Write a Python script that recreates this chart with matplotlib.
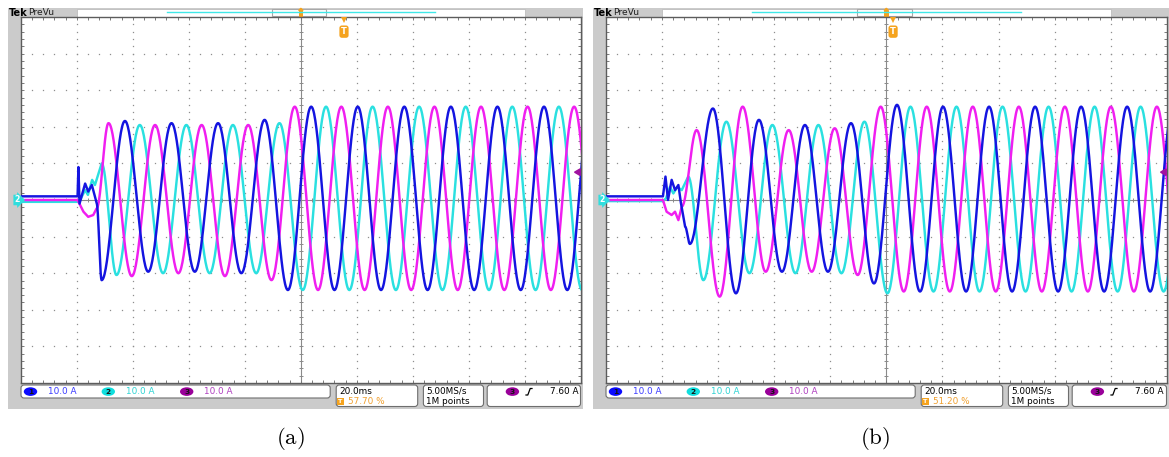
import numpy as np
import matplotlib
matplotlib.use("Agg")
import matplotlib.pyplot as plt
from matplotlib.patches import Rectangle, FancyBboxPatch, Ellipse
import matplotlib.transforms as mtrans

plt.rcParams['mathtext.fontset'] = 'cm'

# ---------------- data ----------------
TIME_DIV_MS = 20.0
AMP_DIV_A = 10.0
N_HDIV = 10
N_VDIV = 10

panel_labels = [r'$\mathrm{(a)}$', r'$\mathrm{(b)}$']
ch_names = ['1', '2', '3']
ch_scale_text = ['10.0 A', '10.0 A', '10.0 A']
time_base_text = '20.0ms'
trigger_pos_pct = [57.70, 51.20]
trigger_pos_text = ['57.70 %', '51.20 %']
sample_rate_text = '5.00MS/s'
record_len_text = '1M points'
trigger_level_A = 7.60
trigger_level_text = '7.60 A'

# panel (a): transient points (ms, A), then extremes every half period
a_half_period = 8.31
a_ch1_tr_t = [0.0, 20.3, 20.6, 21.0, 23.0, 24.1, 25.4, 27.1]
a_ch1_tr_v = [1.0, 1.0, 9.0, -1.0, 4.5, 2.3, 4.1, -0.9]
a_ch1_first = 28.9
a_ch1_ext = [-21.9, 21.6, -19.6, 21.0, -19.6, 21.0, -20.0, 21.9, -24.6, 25.5,
             -24.6, 25.5, -24.6, 25.5, -24.6, 25.5, -24.6, 25.5, -24.6, 25.5,
             -24.6, 25.5]
a_ch2_tr_t = [0.0, 20.3, 21.2, 23.0, 24.0, 25.5, 26.5, 28.9]
a_ch2_tr_v = [-0.5, -0.5, 0.0, 2.7, 1.4, 5.5, 4.1, 10.0]
a_ch2_first = 34.2
a_ch2_ext = [-20.5, 20.5, -20.0, 20.5, -20.0, 20.5, -20.0, 21.0, -24.6, 25.5,
             -24.6, 25.5, -24.6, 25.5, -24.6, 25.5, -24.6, 25.5, -24.6, 25.5,
             -24.6, 25.5]
a_ch3_tr_t = [0.0, 20.3, 22.4, 24.1, 25.9, 27.1]
a_ch3_tr_v = [0.0, 0.0, -3.2, -4.6, -4.1, -2.3]
a_ch3_first = 31.35
a_ch3_ext = [21.0, -20.8, 20.5, -20.0, 20.5, -20.8, 20.5, -21.9, 25.5, -24.6,
             25.5, -24.6, 25.5, -24.6, 25.5, -24.6, 25.5, -24.6, 25.5, -24.6,
             25.5, -24.6]

# panel (b)
b_half_period = 8.2
b_ch1_tr_t = [0.0, 20.4, 21.3, 22.2, 23.5, 24.7, 25.9, 26.8, 28.3]
b_ch1_tr_v = [1.0, 1.0, 6.4, 0.0, 5.5, 2.7, 4.1, -0.8, -7.3]
b_ch1_first = 30.0
b_ch1_ext = [-12.0, 25.0, -25.5, 21.9, -19.6, 20.5, -19.6, 21.0, -22.8, 26.0,
             -25.0, 25.5, -25.0, 25.5, -25.0, 25.5, -25.0, 25.5, -25.0, 25.5,
             -25.0, 25.5]
b_ch2_tr_t = [0.0, 20.4, 21.5, 22.9, 24.1, 25.5, 27.1, 29.4]
b_ch2_tr_v = [-0.3, -0.3, 0.5, 3.6, 1.8, 3.6, 2.7, 6.4]
b_ch2_first = 34.8
b_ch2_ext = [-21.9, 21.4, -20.0, 20.5, -20.0, 20.5, -20.0, 21.4, -25.5, 25.5,
             -25.0, 25.5, -25.0, 25.5, -25.0, 25.5, -25.0, 25.5, -25.0, 25.5,
             -25.0, 25.5]
b_ch3_tr_t = [0.0, 20.4, 21.7, 23.5, 24.7, 25.9, 27.1]
b_ch3_tr_v = [0.0, 0.0, -3.2, -4.1, -3.2, -5.5, -1.8]
b_ch3_first = 32.4
b_ch3_ext = [19.1, -26.4, 25.5, -19.6, 19.1, -19.6, 19.6, -20.5, 25.5, -25.0,
             25.5, -25.0, 25.5, -25.0, 25.5, -25.0, 25.5, -25.0, 25.5, -25.0,
             25.5, -25.0]

panels = [
    dict(half=a_half_period,
         ch=[(a_ch1_tr_t, a_ch1_tr_v, a_ch1_first, a_ch1_ext),
             (a_ch2_tr_t, a_ch2_tr_v, a_ch2_first, a_ch2_ext),
             (a_ch3_tr_t, a_ch3_tr_v, a_ch3_first, a_ch3_ext)]),
    dict(half=b_half_period,
         ch=[(b_ch1_tr_t, b_ch1_tr_v, b_ch1_first, b_ch1_ext),
             (b_ch2_tr_t, b_ch2_tr_v, b_ch2_first, b_ch2_ext),
             (b_ch3_tr_t, b_ch3_tr_v, b_ch3_first, b_ch3_ext)]),
]

# ---------------- style ----------------
TRACE_COL = ['#1414e0', '#2ae0e0', '#f01ef0']
BADGE_COL = ['#0a0aff', '#10dede', '#990099']
TEXT_COL = ['#3c3cff', '#30d4d4', '#b040c0']
GRAY = '#cbcbcb'
ORANGE = '#f5a31e'
BOXEDGE = '#6e6e6e'

W, H = 1169, 457
GRID_TOP, GRID_BOT = 17.0, 383.0
grid_lefts = [20.7, 605.7]
grid_widths = [560.3, 561.3]


def build_curve(tr_t, tr_v, first, half, ext):
    ts = [np.asarray(tr_t, float)]
    vs = [np.asarray(tr_v, float)]
    pt, pv = tr_t[-1], tr_v[-1]
    s = np.linspace(0, 1, 41)[1:]
    for k, v in enumerate(ext):
        tk = first + k * half
        ts.append(pt + (tk - pt) * s)
        vs.append(v + (pv - v) * (1 + np.cos(np.pi * s)) / 2)
        pt, pv = tk, v
    return np.concatenate(ts), np.concatenate(vs)


fig = plt.figure(figsize=(W / 100, H / 100), dpi=100)
bg = fig.add_axes([0, 0, 1, 1], zorder=0)
bg.set_xlim(0, W)
bg.set_ylim(H, 0)
bg.axis('off')

xmax = TIME_DIV_MS * N_HDIV
ymax = AMP_DIV_A * N_VDIV / 2

for p, (gl, gw) in enumerate(zip(grid_lefts, grid_widths)):
    # frame
    fl, fr = gl - 12.5, min(gl + gw + 2.0, W)
    bg.add_patch(Rectangle((fl, 8), fr - fl, 401, fc=GRAY, ec='none'))
    # preview bar
    bx0, bx1 = gl + gw * 0.1, gl + gw * 0.9
    bg.add_patch(Rectangle((bx0, 8.5), bx1 - bx0, 8.3, fc='white', ec='#bdbdbd', lw=0.6))
    bg.plot([gl + gw * 0.261, gl + gw * 0.740], [12.3, 12.3], color='#40e8e8', lw=1.0)
    bg.add_patch(Rectangle((gl + gw * 0.448, 9.0), gw * 0.097, 7.4, fc='none', ec='#a8a8a8', lw=0.8))
    cx = gl + gw * 0.5
    bg.add_patch(Rectangle((cx - 2.2, 10.5), 4.4, 6.0, fc=ORANGE, ec='none'))
    bg.fill([cx - 2.2, cx + 2.2, cx], [10.5, 10.5, 8.3], color=ORANGE)
    bg.text(gl - 11.8, 12.8, 'Tek', fontsize=7.0, fontweight='bold', color='black',
            ha='left', va='center')
    bg.text(gl + 7.5, 12.8, 'PreVu', fontsize=6.6, color='#202020', ha='left', va='center')

    # bottom info boxes
    def rbox(x0, x1, y0, y1):
        bg.add_patch(FancyBboxPatch((x0, y0), x1 - x0, y1 - y0,
                                    boxstyle='round,pad=0,rounding_size=3',
                                    fc='white', ec=BOXEDGE, lw=0.8))
    rbox(gl + 0.3, gl + 309.5, 385.0, 398.0)
    rbox(gl + 315.5, gl + 397.0, 385.0, 406.5)
    rbox(gl + 402.7, gl + 462.8, 385.0, 406.5)
    rbox(gl + 466.5, gl + gw - 0.5, 385.0, 406.5)

    badge_x = [9.8, 87.6, 166.0]
    text_x = [27.3, 105.7, 183.3]
    for c in range(3):
        bg.add_patch(Ellipse((gl + badge_x[c], 391.6), 13.4, 8.6, fc=BADGE_COL[c], ec='none'))
        bg.text(gl + badge_x[c], 391.8, ch_names[c], fontsize=5.4, fontweight='bold',
                color='#151515', ha='center', va='center')
        bg.text(gl + text_x[c], 391.6, ch_scale_text[c], fontsize=6.4, color=TEXT_COL[c],
                ha='left', va='center')
    bg.text(gl + 318.5, 391.2, time_base_text, fontsize=6.4, color='black', ha='left', va='center')
    bg.text(gl + 319.8, 401.6, 'T', fontsize=4.6, fontweight='bold', color='white',
            ha='center', va='center',
            bbox=dict(boxstyle='square,pad=0.15', fc=ORANGE, ec='none'))
    bg.text(gl + 327.5, 401.6, trigger_pos_text[p], fontsize=6.4, color='#f0a030',
            ha='left', va='center')
    bg.text(gl + 405.5, 391.2, sample_rate_text, fontsize=6.4, color='black', ha='left', va='center')
    bg.text(gl + 405.5, 401.6, record_len_text, fontsize=6.4, color='black', ha='left', va='center')
    bg.add_patch(Ellipse((gl + 491.7, 391.6), 13.4, 8.6, fc=BADGE_COL[2], ec='none'))
    bg.text(gl + 491.7, 391.8, '3', fontsize=5.4, fontweight='bold', color='#151515',
            ha='center', va='center')
    ex = gl + 508.3
    bg.plot([ex - 3.0, ex - 1.2, ex + 1.2, ex + 3.0], [395.0, 395.0, 388.5, 388.5],
            color='black', lw=0.9)
    bg.text(gl + 558.2, 391.6, trigger_level_text, fontsize=6.4, color='black',
            ha='right', va='center')

    bg.text(gl + 269.8, 438.0, panel_labels[p], fontsize=16.5, color='black',
            ha='center', va='center')

    # scope screen
    ax = fig.add_axes([gl / W, 1 - GRID_BOT / H, gw / W, (GRID_BOT - GRID_TOP) / H], zorder=1)
    ax.set_facecolor('white')
    ax.set_xlim(0, xmax)
    ax.set_ylim(-ymax, ymax)
    ax.set_xticks([])
    ax.set_yticks([])
    for sp in ax.spines.values():
        sp.set_color('#5c5c5c')
        sp.set_linewidth(1.0)

    dt = TIME_DIV_MS / 5
    dv = AMP_DIV_A / 5
    yy = np.arange(-ymax, ymax + 1e-6, dv)
    xx = np.arange(0, xmax + 1e-6, dt)
    for i in range(1, N_HDIV):
        if i == N_HDIV // 2:
            continue
        ax.plot(np.full_like(yy, i * TIME_DIV_MS), yy, ls='none', marker='s', ms=0.9,
                mew=0, color='#8e8e8e')
    for j in range(-N_VDIV // 2 + 1, N_VDIV // 2):
        if j == 0:
            continue
        ax.plot(xx, np.full_like(xx, j * AMP_DIV_A), ls='none', marker='s', ms=0.9,
                mew=0, color='#8e8e8e')
    ax.axvline(xmax / 2, color='#8a8a8a', lw=0.8)
    ax.axhline(0, color='#8a8a8a', lw=0.8)
    ax.vlines(xx, -0.6, 0.6, color='#8a8a8a', lw=0.7)
    ax.hlines(yy, xmax / 2 - 0.75, xmax / 2 + 0.75, color='#8a8a8a', lw=0.7)
    ax.vlines(xx, ymax - 0.9, ymax, color='#7a7a7a', lw=0.7)
    ax.vlines(xx, -ymax, -ymax + 0.9, color='#7a7a7a', lw=0.7)
    ax.hlines(yy, 0, 1.1, color='#7a7a7a', lw=0.7)
    ax.hlines(yy, xmax - 1.1, xmax, color='#7a7a7a', lw=0.7)

    curves = [build_curve(*panels[p]['ch'][c][:3], panels[p]['half'], panels[p]['ch'][c][3])
              for c in range(3)]
    for c in (1, 2, 0):
        t, v = curves[c]
        ax.plot(t, v, color=TRACE_COL[c], lw=1.75, solid_joinstyle='round', zorder=3)

    # trigger level arrow (right edge)
    ax.fill([xmax - 2.3, xmax - 0.3, xmax - 0.3],
            [trigger_level_A, trigger_level_A + 0.9, trigger_level_A - 0.9],
            color='#a012a0', zorder=4)
    # trigger position marker (top)
    tt = trigger_pos_pct[p] / 100 * xmax
    ax.plot(tt, ymax - 0.8, marker='v', ms=4.5, color=ORANGE, mew=0, zorder=5, clip_on=False)
    ax.text(tt, ymax - 4.0, 'T', fontsize=6.0, fontweight='bold', color='white',
            ha='center', va='center', zorder=5,
            bbox=dict(boxstyle='round,pad=0.2,rounding_size=0.3', fc=ORANGE, ec='none'))
    # ch2 ground marker (left edge)
    trans = mtrans.blended_transform_factory(ax.transAxes, ax.transData)
    ax.text(-0.002, 0, '2', transform=trans, fontsize=5.6, fontweight='bold', color='white',
            ha='right', va='center', clip_on=False, zorder=6,
            bbox=dict(boxstyle='rarrow,pad=0.1', fc='#30dede', ec='none'))

fig.savefig('out.png', dpi=100)
